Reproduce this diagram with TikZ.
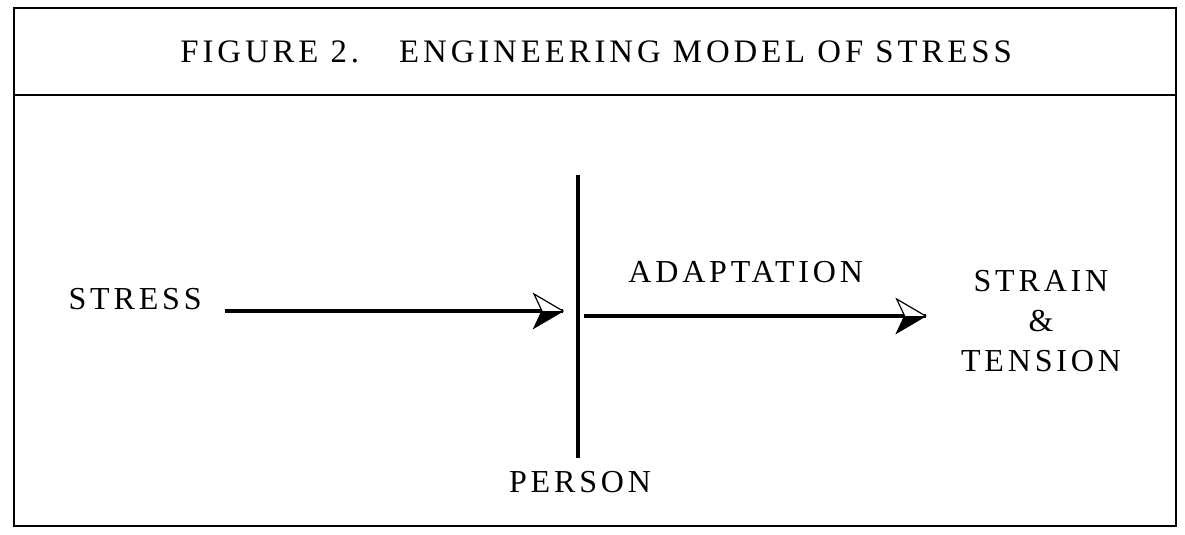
\documentclass[tikz,border=0pt]{standalone}
\usepackage{fontspec}
\newfontfamily\figfont{Liberation Serif}[LetterSpace=12]
\usetikzlibrary{positioning,calc,decorations.markings}

\begin{document}
\begin{tikzpicture}[
  x=0.5pt, y=-0.5pt,
  every node/.style={font=\figfont\fontsize{16}{20}\selectfont, inner sep=0pt},
  lbl/.style  ={align=center},
  frame/.style={line width=1pt},
  bar/.style  ={line width=2.4pt},
  arr/.style  ={line width=2.4pt, postaction={decorate},
                decoration={markings, mark=at position 1 with {
                  \draw[line width=0.6pt, fill=white]
                    (0,0) -- (-14.5pt,8.5pt) -- (-10.5pt,0) -- (-14.5pt,-8.5pt) -- cycle;
                  \fill (0,0) -- (-10.5pt,0) -- (-14.5pt,-8.5pt) -- cycle;}}}
]
\useasboundingbox (0,0) rectangle (1185,535);

%% --- Frame and title -----------------------------------------
\draw[frame] (14,8) rectangle (1176,526);
\draw[frame] (14,95) -- (1176,95);
\node[anchor=base west, font=\figfont\fontsize{16.4}{20}\selectfont] (title) at (180,63)
     {FIGURE 2.\hspace{20pt}ENGINEERING MODEL OF STRESS};

%% --- Labels --------------------------------------------------
\node[lbl, anchor=base east] (stress) at (202,309) {STRESS};
\node[lbl, anchor=base west] (adapt) at (628,283) {ADAPTATION};
\node[lbl] (strain) at (1041,321) {STRAIN\\\&\\TENSION};
\node[lbl, anchor=base] (person) at (580,492) {PERSON};

%% --- Person bar ----------------------------------------------
\coordinate (bartop) at (578,175);
\coordinate (barbot) at (578,458);
\draw[bar] (bartop) -- (barbot);

%% --- Arrows --------------------------------------------------
\draw[arr] ($(stress.base east)+(23,2)$) -- ($(bartop|-stress.base east)+(-15,2)$);
\draw[arr] ($(bartop|-adapt.base)+(6,33)$) -- ($(strain.west|-adapt.base)+(-35,33)$);

\end{tikzpicture}
\end{document}
